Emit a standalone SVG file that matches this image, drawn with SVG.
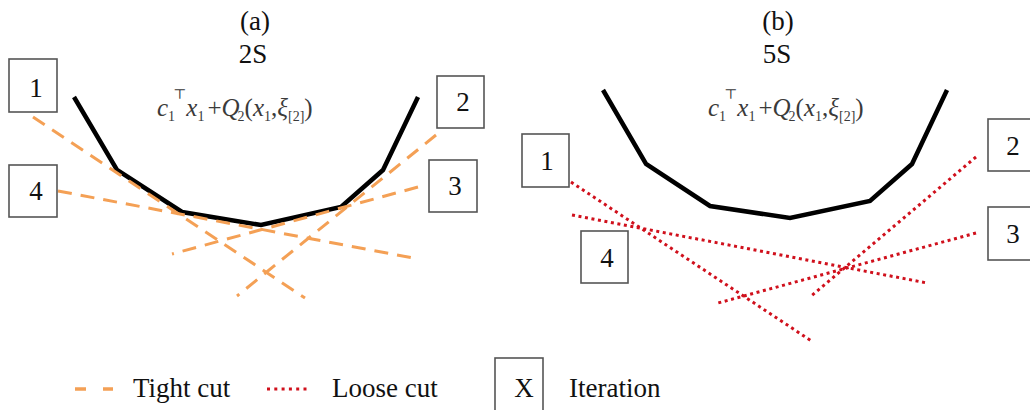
<svg xmlns="http://www.w3.org/2000/svg" width="1030" height="410" viewBox="0 0 1030 410">
<style>
.t{font-family:"Liberation Serif","DejaVu Serif",serif;font-size:27px;fill:#111;text-anchor:middle}
.lg{font-family:"Liberation Serif","DejaVu Serif",serif;font-size:27px;fill:#111}
.f{font-family:"Liberation Serif","DejaVu Serif",serif;font-size:25px;fill:#3a3a3a}
.i{font-style:italic}
.s{font-size:14px}
.box{fill:#fff;stroke:#555;stroke-width:1.6}
.curve{fill:none;stroke:#000;stroke-width:4.5;stroke-linejoin:miter}
.tight{stroke:#F4A055;stroke-width:3;stroke-dasharray:14 9;fill:none}
.loose{stroke:#D0101C;stroke-width:3;stroke-dasharray:3 3.6;fill:none}
</style>
<rect width="1030" height="410" fill="#fff"/>
<g id="titles">
<text class="t" x="255" y="30">(a)</text>
<text class="t" x="253" y="63">2S</text>
<text class="t" x="778" y="30">(b)</text>
<text class="t" x="777" y="63">5S</text>
</g>
<g id="curve-a"><polyline class="curve" points="74,97 117,170 182,212 261,225 341,207 383,170 418,97"/></g>
<g id="curve-b"><polyline class="curve" points="603,90 646,164 710,206 790,218 870,201 912,164 947,90"/></g>
<g id="formula-a">
<text class="f" x="157" y="116"><tspan class="i">c</tspan><tspan class="s" dy="5">1</tspan><tspan class="s" dx="-2" dy="-22">⊤</tspan><tspan class="i" dx="0" dy="17">x</tspan><tspan class="s" dy="5">1</tspan><tspan dx="3" dy="-5">+</tspan><tspan class="i">Q</tspan><tspan class="s" dx="-2" dy="5">2</tspan><tspan dy="-5">(</tspan><tspan class="i">x</tspan><tspan class="s" dy="5">1</tspan><tspan dy="-5">,</tspan><tspan class="i">ξ</tspan><tspan class="s" dy="5">[2]</tspan><tspan dy="-5">)</tspan></text>
</g>
<g id="formula-b">
<text class="f" x="708" y="116"><tspan class="i">c</tspan><tspan class="s" dy="5">1</tspan><tspan class="s" dx="-2" dy="-22">⊤</tspan><tspan class="i" dx="0" dy="17">x</tspan><tspan class="s" dy="5">1</tspan><tspan dx="3" dy="-5">+</tspan><tspan class="i">Q</tspan><tspan class="s" dx="-2" dy="5">2</tspan><tspan dy="-5">(</tspan><tspan class="i">x</tspan><tspan class="s" dy="5">1</tspan><tspan dy="-5">,</tspan><tspan class="i">ξ</tspan><tspan class="s" dy="5">[2]</tspan><tspan dy="-5">)</tspan></text>
</g>
<g id="connectors">
<line class="tight" x1="33" y1="117" x2="305" y2="298"/>
<line class="tight" x1="58" y1="191" x2="413" y2="258"/>
<line class="tight" x1="436" y1="135" x2="237" y2="296"/>
<line class="tight" x1="418" y1="187" x2="172" y2="254"/>
<line class="loose" x1="571" y1="182" x2="813" y2="342"/>
<line class="loose" x1="572" y1="215" x2="927" y2="283"/>
<line class="loose" x1="976" y1="157" x2="810" y2="297"/>
<line class="loose" x1="976" y1="233" x2="718" y2="303"/>
</g>
<g id="a-iter1"><rect class="box" x="9" y="59" width="48" height="53"/><text class="t" x="36" y="97">1</text></g>
<g id="a-iter2"><rect class="box" x="437" y="76" width="47" height="52"/><text class="t" x="463" y="111">2</text></g>
<g id="a-iter3"><rect class="box" x="429" y="160" width="48" height="52"/><text class="t" x="455" y="195">3</text></g>
<g id="a-iter4"><rect class="box" x="9" y="165" width="48" height="52"/><text class="t" x="36" y="200">4</text></g>
<g id="b-iter1"><rect class="box" x="522" y="134" width="47" height="53"/><text class="t" x="547" y="170">1</text></g>
<g id="b-iter2"><rect class="box" x="988" y="119" width="50" height="52"/><text class="t" x="1013" y="155">2</text></g>
<g id="b-iter3"><rect class="box" x="988" y="207" width="50" height="53"/><text class="t" x="1013" y="243">3</text></g>
<g id="b-iter4"><rect class="box" x="581" y="231" width="47" height="52"/><text class="t" x="607" y="267">4</text></g>
<g id="legend">
<line x1="75" y1="389" x2="113" y2="389" stroke="#F4A055" stroke-width="3.5" stroke-dasharray="11 17"/>
<text class="lg" x="133" y="397">Tight cut</text>
<line x1="267" y1="389" x2="309" y2="389" stroke="#D0101C" stroke-width="3" stroke-dasharray="3 4.3"/>
<text class="lg" x="332" y="397">Loose cut</text>
<rect class="box" x="495" y="358" width="48" height="60"/>
<text class="t" x="524" y="397">X</text>
<text class="lg" x="569" y="397">Iteration</text>
</g>
</svg>
